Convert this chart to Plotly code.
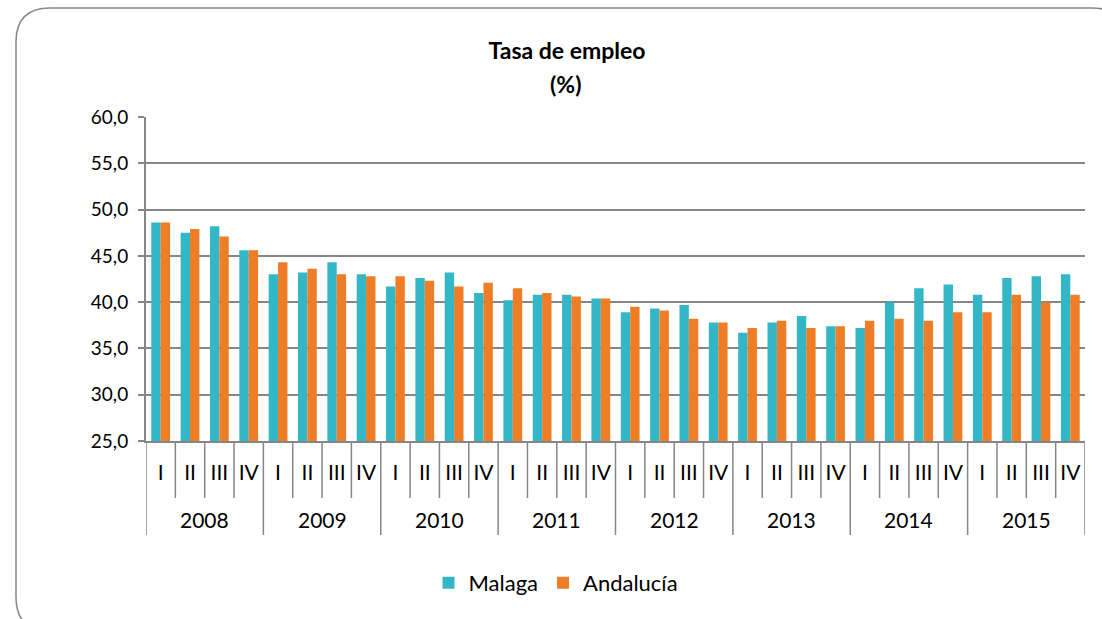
import plotly.graph_objects as go

years = ["2008", "2009", "2010", "2011", "2012", "2013", "2014", "2015"]
quarters = ["I", "II", "III", "IV"]

malaga = [48.6, 47.5, 48.2, 45.6,
          43.0, 43.2, 44.3, 43.0,
          41.7, 42.6, 43.2, 41.0,
          40.2, 40.8, 40.8, 40.4,
          38.9, 39.3, 39.7, 37.8,
          36.7, 37.8, 38.5, 37.4,
          37.2, 40.0, 41.5, 41.9,
          40.8, 42.6, 42.8, 43.0]
andalucia = [48.6, 47.9, 47.1, 45.6,
             44.3, 43.6, 43.0, 42.8,
             42.8, 42.3, 41.7, 42.1,
             41.5, 41.0, 40.6, 40.4,
             39.5, 39.1, 38.2, 37.8,
             37.2, 38.0, 37.2, 37.4,
             38.0, 38.2, 38.0, 38.9,
             38.9, 40.8, 40.0, 40.8]

x_quarters = [q for _ in years for q in quarters]
idx = list(range(len(x_quarters)))
nq = len(quarters)

GRAY = "#868686"
FONT = "Lato, Carlito, 'Liberation Sans', sans-serif"

fig = go.Figure()
fig.add_trace(go.Bar(x=idx, y=malaga, name="Malaga",
                     marker=dict(color="#33B7C6", line=dict(width=0))))
fig.add_trace(go.Bar(x=idx, y=andalucia, name="Andalucía",
                     marker=dict(color="#ED7D26", line=dict(width=0))))

W, H = 1102, 619
ml, mr, mt, mb = 146, 17, 117, 178
pw, ph = W - ml - mr, H - mt - mb

def px(x):
    return (x - ml) / pw

def py(y):
    return (H - mb - y) / ph

# rounded outer border
L, T, R, B, r = 16, 8, 1126, 631, 34
path = (f"M {px(L)},{py(T + r)} "
        f"Q {px(L)},{py(T)} {px(L + r)},{py(T)} "
        f"L {px(R - r)},{py(T)} "
        f"Q {px(R)},{py(T)} {px(R)},{py(T + r)} "
        f"L {px(R)},{py(B - r)} "
        f"Q {px(R)},{py(B)} {px(R - r)},{py(B)} "
        f"L {px(L + r)},{py(B)} "
        f"Q {px(L)},{py(B)} {px(L)},{py(B - r)} Z")

shapes = [dict(type="path", xref="paper", yref="paper", path=path,
               line=dict(color=GRAY, width=1.5), fillcolor="rgba(0,0,0,0)", layer="below")]
# category dividers below the axis
for b in range(len(idx) + 1):
    xb = b - 0.5
    is_year = (b % nq == 0)
    shapes.append(dict(type="line", xref="x", yref="paper", x0=xb, x1=xb,
                       y0=0, y1=py(535 if is_year else 498),
                       line=dict(color=GRAY, width=1.5)))

annotations = [dict(text="<b>(%)</b>", xref="paper", yref="paper", x=px(565), y=py(84),
                    xanchor="center", yanchor="middle", showarrow=False,
                    font=dict(family=FONT, size=23, color="#000000"))]
for i, yr in enumerate(years):
    annotations.append(dict(text=yr, xref="x", yref="paper", x=i * nq + (nq - 1) / 2,
                            y=py(519), xanchor="center", yanchor="middle", showarrow=False,
                            font=dict(family=FONT, size=21, color="#000000")))

fig.update_layout(
    width=W, height=H,
    margin=dict(l=ml, r=mr, t=mt, b=mb),
    paper_bgcolor="white", plot_bgcolor="white",
    separators=",.",
    barmode="group", bargap=0.36, bargroupgap=0.0,
    font=dict(family=FONT, size=19, color="#000000"),
    title=dict(text="<b>Tasa de empleo</b>", x=567 / W, xanchor="center",
               y=1 - 51 / H, yanchor="middle",
               font=dict(family=FONT, size=23, color="#000000")),
    showlegend=True,
    legend=dict(orientation="h", x=px(556), xanchor="center", y=py(583), yanchor="middle",
                font=dict(family=FONT, size=22, color="#000000"), traceorder="normal"),
    shapes=shapes,
    annotations=annotations,
)

fig.update_yaxes(range=[25, 60], dtick=5, tickformat=".1f",
                 showgrid=True, gridcolor=GRAY, gridwidth=2,
                 showline=True, linecolor=GRAY, linewidth=2,
                 ticks="outside", ticklen=6, tickcolor=GRAY, tickwidth=2,
                 ticklabelstandoff=6, zeroline=False,
                 tickfont=dict(family=FONT, size=19, color="#000000"))
fig.update_xaxes(range=[-0.5, len(idx) - 0.5], tickmode="array", tickvals=idx, ticktext=x_quarters,
                 showline=True, linecolor=GRAY, linewidth=2, ticks="", ticklabelstandoff=12,
                 showgrid=False, zeroline=False,
                 tickfont=dict(family=FONT, size=21, color="#000000"))

fig.write_html("out.html", config={"displayModeBar": False},
               post_script="document.body.style.margin='0';")
